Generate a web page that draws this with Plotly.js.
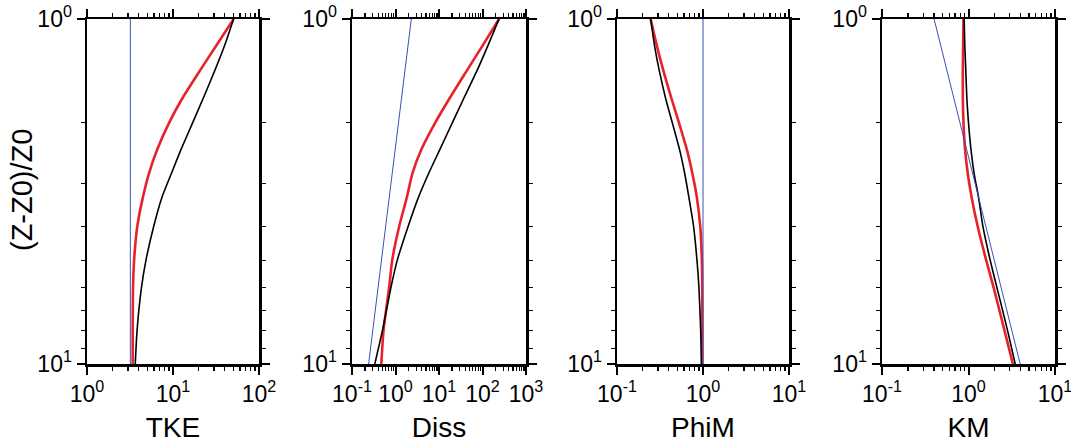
<!DOCTYPE html>
<html>
<head>
<meta charset="utf-8">
<script src="https://cdn.plot.ly/plotly-3.0.1.min.js"></script>
<style>html,body{margin:0;padding:0;background:#fff;}#chart{width:1071px;height:443px;}</style>
</head>
<body>
<div id="chart"></div>
<script>
// Heights (Z-Z0)/Z0 at which the curves were read
const zLevels = [1, 1.2, 1.4, 1.7, 2.0, 2.4, 2.8, 3.3, 4, 5, 6, 8, 10];
const zEnds = [1, 10];

// TKE
const tkeRed   = [50.7, 31.5, 21.0, 12.8, 9.0, 6.5, 5.26, 4.45, 3.84, 3.53, 3.43, 3.4, 3.4];
const tkeBlack = [50.7, 39.5, 31.0, 22.4, 16.9, 12.3, 9.6, 7.4, 5.95, 4.85, 4.3, 3.82, 3.64];
const tkeBlue  = [3.19, 3.19];

// Diss
const dissRed   = [240, 98, 45.5, 17.4, 8.15, 3.86, 2.45, 1.81, 1.21, 0.84, 0.715, 0.53, 0.472];
const dissBlack = [240, 131, 77, 37, 20.2, 10.3, 5.8, 3.33, 1.94, 1.10, 0.785, 0.50, 0.334];
const dissBlue  = [2.31, 0.241];

// PhiM
const phiRed   = [0.246, 0.292, 0.343, 0.43, 0.526, 0.652, 0.752, 0.85, 0.93, 0.97, 0.98, 0.983, 0.985];
const phiBlack = [0.246, 0.274, 0.308, 0.368, 0.44, 0.536, 0.612, 0.687, 0.778, 0.851, 0.897, 0.94, 0.957];
const phiBlue  = [1.0, 1.0];

// KM
const kmRed   = [0.875, 0.867, 0.86, 0.86, 0.875, 0.914, 0.98, 1.09, 1.28, 1.6, 1.95, 2.61, 3.26];
const kmBlack = [0.89, 0.907, 0.93, 0.957, 1.0, 1.07, 1.16, 1.31, 1.47, 1.78, 2.13, 2.83, 3.47];
const kmBlue  = [0.40, 3.96];

const panelTitles = ['TKE', 'Diss', 'PhiM', 'KM'];
const xExpRanges = [[0, 2], [-1, 3], [-1, 1], [-1, 1]];
const yTitle = '(Z-Z0)/Z0';

const RED = '#e8222a', BLACK = '#000000', BLUE = '#3a50b4';
const FONT = 'Liberation Sans, Arial, sans-serif';

const series = [
  [tkeRed, tkeBlack, tkeBlue],
  [dissRed, dissBlack, dissBlue],
  [phiRed, phiBlack, phiBlue],
  [kmRed, kmBlack, kmBlue]
];

const domains = [[87, 259], [352, 526], [617, 789], [882, 1055]];
const W = 1071, H = 443;
const yDom = [(H - 364) / H, (H - 19) / H];

function expLabel(e) { return '10<sup>' + e + '</sup>'; }
function majorVals(lo, hi) { const v = []; for (let e = lo; e <= hi; e++) v.push(Math.pow(10, e)); return v; }
function majorText(lo, hi) { const v = []; for (let e = lo; e <= hi; e++) v.push(expLabel(e)); return v; }
function minorVals(lo, hi) { const v = []; for (let e = lo; e < hi; e++) for (let m = 2; m <= 9; m++) v.push(m * Math.pow(10, e)); return v; }

const traces = [];
const layout = {
  width: W, height: H, autosize: false,
  margin: {l: 0, r: 0, t: 0, b: 0},
  paper_bgcolor: '#fff', plot_bgcolor: '#fff',
  showlegend: false,
  font: {family: FONT, color: '#000'},
  annotations: []
};

function axisCommon() {
  return {
    type: 'log', showgrid: false, zeroline: false,
    showline: true, linecolor: '#000', linewidth: 2.5, mirror: 'ticks',
    ticks: 'outside', ticklen: 8, tickwidth: 2, tickcolor: '#000',
    tickfont: {family: FONT, size: 23, color: '#000'},
    ticklabeloverflow: 'allow',
    tickmode: 'array'
  };
}

for (let i = 0; i < 4; i++) {
  const sfx = i === 0 ? '' : String(i + 1);
  const xa = 'x' + sfx, ya = 'y' + sfx;
  const [r, b, bl] = series[i];
  traces.push({x: r, y: zLevels, xaxis: xa, yaxis: ya, mode: 'lines', line: {color: RED, width: 2.6, shape: 'spline', smoothing: 0.7}});
  traces.push({x: b, y: zLevels, xaxis: xa, yaxis: ya, mode: 'lines', line: {color: BLACK, width: 1.6, shape: 'spline', smoothing: 0.6}});
  traces.push({x: bl, y: zEnds, xaxis: xa, yaxis: ya, mode: 'lines', line: {color: BLUE, width: 1}});

  const [lo, hi] = xExpRanges[i];
  const xax = Object.assign(axisCommon(), {
    domain: [domains[i][0] / W, domains[i][1] / W],
    anchor: ya,
    range: [lo, hi],
    tickvals: majorVals(lo, hi),
    ticktext: majorText(lo, hi),
    minor: {tickvals: minorVals(lo, hi), ticks: 'outside', ticklen: 4, tickwidth: 1.2, tickcolor: '#000'},
    title: {text: panelTitles[i], font: {family: FONT, size: 28, color: '#000'}, standoff: 12}
  });
  const yax = Object.assign(axisCommon(), {
    domain: yDom,
    anchor: xa,
    range: [1, 0],
    tickvals: majorVals(0, 1),
    ticktext: majorText(0, 1),
    minor: {tickvals: minorVals(0, 1), ticks: 'outside', ticklen: 4, tickwidth: 1.2, tickcolor: '#000'}
  });
  layout['xaxis' + sfx] = xax;
  layout['yaxis' + sfx] = yax;
}

layout.annotations.push({
  text: yTitle, xref: 'paper', yref: 'paper',
  x: 22 / W, y: (H - 190) / H, xanchor: 'center', yanchor: 'middle',
  textangle: -90, showarrow: false,
  font: {family: FONT, size: 29, color: '#000'}
});

Plotly.newPlot('chart', traces, layout, {staticPlot: true, displayModeBar: false});
</script>
</body>
</html>
